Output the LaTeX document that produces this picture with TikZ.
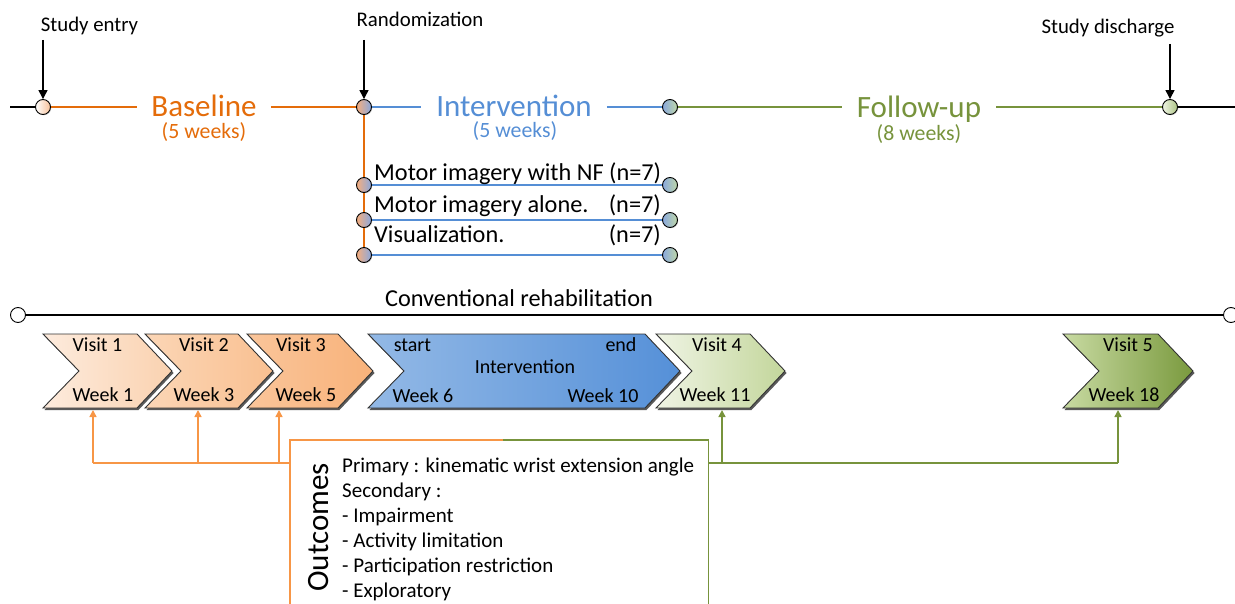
\documentclass[tikz,border=0pt]{standalone}
\usepackage{fontspec}
\setmainfont{Carlito}
\usetikzlibrary{arrows.meta,shadows,backgrounds}
\definecolor{bor}{HTML}{E46C0A}
\definecolor{bbl}{HTML}{558ED5}
\definecolor{bgr}{HTML}{77933C}
\definecolor{lor}{HTML}{F79646}
\definecolor{cirPe}{HTML}{F8C29A}
\definecolor{cirOr}{HTML}{F6AE7E}
\definecolor{cirBl}{HTML}{8AA8DE}
\definecolor{cirGr}{HTML}{BFD8A8}
\definecolor{cirLg}{HTML}{ADC585}
\definecolor{c1L}{HTML}{FDEBDD}
\definecolor{c1R}{HTML}{FAD2B0}
\definecolor{c2L}{HTML}{FBD6B6}
\definecolor{c2R}{HTML}{F9C091}
\definecolor{c3L}{HTML}{FAC59A}
\definecolor{c3R}{HTML}{F8B27A}
\definecolor{c4L}{HTML}{93B9E6}
\definecolor{c4R}{HTML}{5590D8}
\definecolor{c5L}{HTML}{EFF4E4}
\definecolor{c5R}{HTML}{C3D69B}
\definecolor{c6L}{HTML}{C8DAA2}
\definecolor{c6R}{HTML}{7A9A3E}
\newcommand\chevshape[4]{%
  \path[chev, left color=#3, right color=#4] (#1,334) -- (#2,334) -- (#2+35,371) -- (#2,408) -- (#1,408) -- (#1+36,371) -- cycle;}
\begin{document}
\begin{tikzpicture}[x=1pt,y=-1pt,
  dot/.style={circle, draw=black, line width=0.9pt, minimum size=15pt, inner sep=0pt,
     drop shadow={shadow xshift=0.8pt, shadow yshift=-0.8pt, opacity=0.35}},
  wdot/.style={circle, draw=black, line width=0.9pt, minimum size=15pt, inner sep=0pt, fill=white},
  chev/.style={draw=black!80, line width=0.9pt,
     drop shadow={shadow xshift=1.5pt, shadow yshift=-2pt, opacity=0.65, fill=black}},
  lbl/.style={font=\fontsize{20.8}{24}\selectfont, inner sep=0pt},
  wks/.style={font=\fontsize{21.8}{25}\selectfont, inner sep=0pt, anchor=base},
  big/.style={font=\fontsize{31}{36}\selectfont, inner ysep=0pt, inner xsep=14pt},
  grp/.style={font=\fontsize{24.3}{28}\selectfont, inner sep=0pt},
  ctx/.style={font=\fontsize{20}{24}\selectfont, inner sep=0pt, anchor=base},
  otx/.style={font=\fontsize{21}{25}\selectfont, inner sep=0pt, anchor=base west},
  tip/.style={-{Triangle[length=9pt,width=9pt]}},
  stip/.style={-{Triangle[length=7pt,width=7pt]}},
  tl/.style={line width=1.7pt},
]
\useasboundingbox (0,0) rectangle (1235,604);
\clip (0,0) rectangle (1235,604);

% ---------- top timeline nodes ----------
\node[dot, left color=white, right color=cirPe] (se) at (43,107) {};
\node[dot, left color=cirOr, right color=cirBl] (ri) at (364,107) {};
\node[dot, left color=cirBl, right color=cirGr] (ie) at (670,107) {};
\node[dot, left color=c5L, right color=cirLg] (sd) at (1170,107) {};
\coordinate (lend) at (10,107);
\coordinate (rend) at (1235,107);

\node[big, text=bor, anchor=base] (bl) at (204,117) {Baseline};
\node[wks, text=bor] (blw) at (204,139) {(5 weeks)};
\node[big, text=bbl, anchor=base, inner xsep=15pt] (iv) at (514,117) {Intervention};
\node[wks, text=bbl] (ivw) at (515,137.5) {(5 weeks)};
\node[big, text=bgr, anchor=base, inner xsep=15pt] (fu) at (919,118) {Follow-up};
\node[wks, text=bgr] (fuw) at (919,141) {(8 weeks)};

\node[lbl, anchor=base] (sel) at (89.5,32) {Study entry};
\node[lbl, anchor=base] (rl) at (420,27) {Randomization};
\node[lbl, anchor=base] (sdl) at (1108,34) {Study discharge};
\coordinate (sea) at (43,40);
\coordinate (ra) at (364,40);
\coordinate (sda) at (1170,44);

% ---------- group nodes ----------
\node[dot, left color=cirOr, right color=cirBl] (g1l) at (364,185) {};
\node[dot, left color=cirOr, right color=cirBl] (g2l) at (364,220) {};
\node[dot, left color=cirOr, right color=cirBl] (g3l) at (364,255) {};
\node[dot, left color=cirBl, right color=cirGr] (g1r) at (670,185) {};
\node[dot, left color=cirBl, right color=cirGr] (g2r) at (670,220) {};
\node[dot, left color=cirBl, right color=cirGr] (g3r) at (670,255) {};
\node[grp, anchor=base west] (t1) at (374,181) {Motor imagery with NF (n=7)};
\node[grp, anchor=base west] (t2) at (374,213) {Motor imagery alone.};
\node[grp, anchor=base east] (n2) at (661,213) {(n=7)};
\node[grp, anchor=base west] (t3) at (374,243) {Visualization.};
\node[grp, anchor=base east] (n3) at (661,243) {(n=7)};

% ---------- conventional rehabilitation ----------
\node[wdot] (cr1) at (18,315) {};
\node[wdot] (cr2) at (1231,315) {};
\node[grp, anchor=base] (crl) at (519,307) {Conventional rehabilitation};

\begin{pgfonlayer}{background}
\draw[tl, black] (lend) -- (se);
\draw[tl, bor] (se) -- (bl.west |- se);
\draw[tl, bor] (bl.east |- ri) -- (ri);
\draw[tl, bbl] (ri) -- (iv.west |- ri);
\draw[tl, bbl] (iv.east |- ie) -- (ie);
\draw[tl, bgr] (ie) -- (fu.west |- ie);
\draw[tl, bgr] (fu.east |- sd) -- (sd);
\draw[tl, black] (sd) -- (rend);
\draw[line width=1.6pt, bor] (ri) -- (g1l) -- (g2l) -- (g3l);
\draw[line width=1.5pt, bbl] (g1l) -- (g1r);
\draw[line width=1.5pt, bbl] (g2l) -- (g2r);
\draw[line width=1.5pt, bbl] (g3l) -- (g3r);
\draw[line width=1.4pt, black] (cr1) -- (cr2);
\end{pgfonlayer}

\draw[line width=1.3pt, tip] (sea) -- (se);
\draw[line width=1.3pt, tip] (ra) -- (ri);
\draw[line width=1.3pt, tip] (sda) -- (sd);

% ---------- chevrons ----------
\chevshape{43}{137}{c1L}{c1R}
\chevshape{145}{238}{c2L}{c2R}
\chevshape{247}{338}{c3L}{c3R}
\chevshape{368}{645}{c4L}{c4R}
\chevshape{656}{750}{c5L}{c5R}
\chevshape{1063}{1158}{c6L}{c6R}

\node[ctx] (v1) at (97.5,352) {Visit 1};
\node[ctx] (w1) at (103,401) {Week 1};
\node[ctx] (v2) at (204,352) {Visit 2};
\node[ctx] (w3) at (204,401) {Week 3};
\node[ctx] (v3) at (301,352) {Visit 3};
\node[ctx] (w5) at (306,401) {Week 5};
\node[ctx] (ist) at (412.5,352) {start};
\node[ctx] (ien) at (621,352) {end};
\node[ctx] (iin) at (525,373) {Intervention};
\node[ctx] (w6) at (423,402) {Week 6};
\node[ctx] (w10) at (603,402) {Week 10};
\node[ctx] (v4) at (717,352) {Visit 4};
\node[ctx] (w11) at (715,401) {Week 11};
\node[ctx] (v5) at (1128,352) {Visit 5};
\node[ctx] (w18) at (1124,401) {Week 18};

% ---------- outcomes ----------
\node[minimum width=418pt, minimum height=200pt, anchor=north west, inner sep=0pt] (ob) at (290,440) {};
\draw[lor, line width=1.5pt] (ob.south west) -- (ob.north west) -- ([xshift=4pt]ob.north);
\draw[bgr, line width=1.5pt] ([xshift=4pt]ob.north) -- (ob.north east) -- (ob.south east);
\node[font=\fontsize{31}{36}\selectfont, inner sep=0pt, rotate=90, anchor=base] (oc) at (328,527.5) {Outcomes};
\node[otx] (o1) at (342,472) {Primary : kinematic wrist extension angle};
\node[otx] (o2) at (342,497) {Secondary :};
\node[otx] (o3) at (342,522) {- Impairment};
\node[otx] (o4) at (342,547) {- Activity limitation};
\node[otx] (o5) at (342,572) {- Participation restriction};
\node[otx] (o6) at (342,597) {- Exploratory};

\coordinate (a1b) at (93,463);  \coordinate (a1t) at (93,410);
\coordinate (a2b) at (198,463); \coordinate (a2t) at (198,410);
\coordinate (a3b) at (279,463); \coordinate (a3t) at (279,410);
\coordinate (a4b) at (722,463); \coordinate (a4t) at (722,410);
\coordinate (a5b) at (1118,463); \coordinate (a5t) at (1118,410);
\draw[lor, line width=1.5pt] (a1b) -- (ob.west |- a1b);
\draw[lor, line width=1.5pt, stip] (a1b) -- (a1t);
\draw[lor, line width=1.5pt, stip] (a2b) -- (a2t);
\draw[lor, line width=1.5pt, stip] (a3b) -- (a3t);
\draw[bgr, line width=1.5pt] (ob.east |- a4b) -- (a5b);
\draw[bgr, line width=1.5pt, stip] (a4b) -- (a4t);
\draw[bgr, line width=1.5pt, stip] (a5b) -- (a5t);
\end{tikzpicture}
\end{document}
